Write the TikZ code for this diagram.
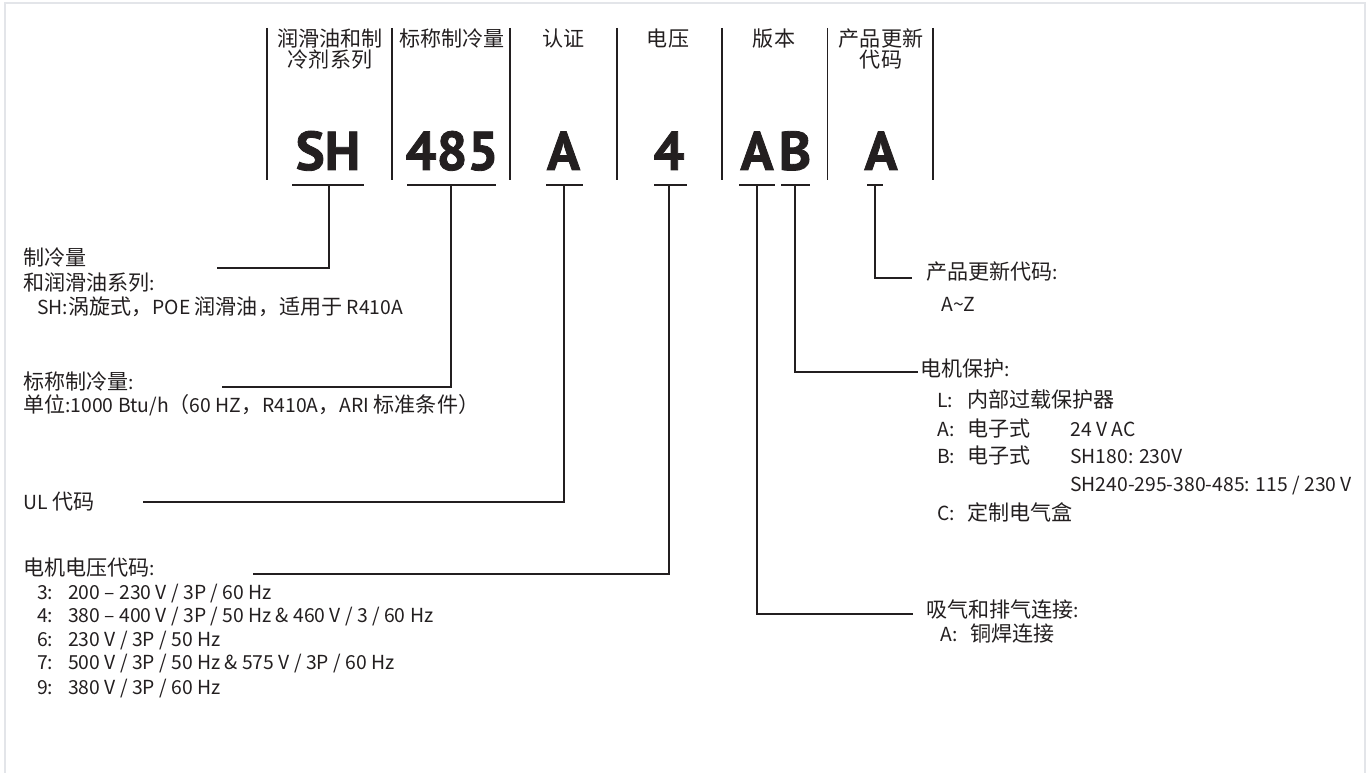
\documentclass[tikz,border=0pt]{standalone}
\usepackage{fontspec}
\setmainfont{Noto Sans CJK SC}
\newfontfamily\codefont{PT Sans}[FakeBold=1.5]
\definecolor{ink}{HTML}{231F20}
\definecolor{framegray}{HTML}{E3E5E9}
% CJK characters a little larger than Latin ones within body lines
\newcommand\cjksize{\fontsize{15.8}{17}\selectfont}
\newcommand\latsize{\fontsize{14.5}{17}\selectfont}
\newcommand\bodyfont{\latsize\XeTeXinterchartokenstate=1\relax}
\newXeTeXintercharclass\cjkcls
\newcount\cjkcnt
\cjkcnt="4E00
\loop \XeTeXcharclass\cjkcnt=\cjkcls \advance\cjkcnt by 1 \ifnum\cjkcnt<"A000 \repeat
\cjkcnt="3000
\loop \XeTeXcharclass\cjkcnt=\cjkcls \advance\cjkcnt by 1 \ifnum\cjkcnt<"3040 \repeat
\cjkcnt="FF00
\loop \XeTeXcharclass\cjkcnt=\cjkcls \advance\cjkcnt by 1 \ifnum\cjkcnt<"FF60 \repeat
\XeTeXinterchartoks 0 \cjkcls {\cjksize}
\XeTeXinterchartoks 4095 \cjkcls {\cjksize}
\XeTeXinterchartoks \cjkcls 0 {\latsize}
\XeTeXinterchartoks 4095 0 {\latsize}
\begin{document}
\begin{tikzpicture}[x=0.75pt,y=-0.75pt,
  ln/.style={inner sep=0pt, anchor=west, text height=12.8pt, text depth=1.7pt,
    font=\bodyfont, text=ink},
  hd/.style={inner sep=0pt, anchor=center, text height=13.9pt, text depth=1.9pt,
    font=\fontsize{15.8}{17}\selectfont, text=ink},
  codeletter/.style={inner sep=0pt, anchor=base, text=ink,
    font=\codefont\bfseries\fontsize{41}{44}\selectfont},
  divider/.style={draw=ink, line width=1.3pt},
  underl/.style={draw=ink, line width=2.2pt},
  conn/.style={draw=ink, line width=1.5pt}]
\useasboundingbox (0,0) rectangle (1370,773);
% frame
\draw[framegray, line width=1.5pt] (5,775) -- (5,3) -- (1365,3) -- (1365,775);

% header labels
\node[hd] (h1a) at (330,39) {润滑油和制};
\node[hd] (h1b) at (330,60) {冷剂系列};
\node[hd] (h2) at (452,39) {标称制冷量};
\node[hd] (h3) at (563.5,39) {认证};
\node[hd] (h4) at (668,39) {电压};
\node[hd] (h5) at (774,39) {版本};
\node[hd] (h6a) at (881,39) {产品更新};
\node[hd] (h6b) at (881,60) {代码};

% dividers
\foreach \x in {267,392,510,617,722,827.5,933}
  \draw[divider] (\x,28) -- (\x,180);

% code letters
\node[codeletter] (c1) at (328,170) {SH};
\node[codeletter] (c2) at (452,170) {485};
\node[codeletter] (c3) at (563.5,170) {A};
\node[codeletter] (c4) at (669,170) {4};
\node[codeletter] (c5) at (757,170) {A};
\node[codeletter] (c6) at (795,170) {B};
\node[codeletter] (c7) at (881,170) {A};

% underlines
\draw[underl] (292,185) -- (364,185);
\draw[underl] (407,185) -- (496,185);
\draw[underl] (546,185) -- (583,185);
\draw[underl] (654,185) -- (687,185);
\draw[underl] (739,185) -- (775,185);
\draw[underl] (781,185) -- (810,185);
\draw[underl] (867,185) -- (883,185);

% connector start/end points
\coordinate (u1) at (329,185);   \coordinate (e1) at (217,268);
\coordinate (u2) at (451,185);   \coordinate (e2) at (222,387);
\coordinate (u3) at (563.5,185); \coordinate (e3) at (143,502);
\coordinate (u4) at (669,185);   \coordinate (e4) at (253,574);
\coordinate (u5) at (757,185);   \coordinate (e5) at (913,614);
\coordinate (u6) at (795,185);   \coordinate (e6) at (918,372);
\coordinate (u7) at (875,185);   \coordinate (e7) at (912,278);
\foreach \i in {1,...,7} \draw[conn] (u\i) |- (e\i);

% left texts
\node[ln] (t1a) at (23,258) {制冷量};
\node[ln] (t1b) at (23,283) {和润滑油系列:};
\node[ln] (t1c) at (37,307) {SH:涡旋式，POE 润滑油，适用于 R410A};
\node[ln] (t2a) at (23,382) {标称制冷量:};
\node[ln] (t2b) at (23,405) {单位:1000 Btu/h（60 HZ，R410A，ARI 标准条件）};
\node[ln] (t3) at (23,502) {UL 代码};
\node[ln] (t4) at (23,568) {电机电压代码:};
\node[ln] (v3) at (37,592) {\makebox[23.25pt][l]{3:}200 – 230 V / 3P / 60 Hz};
\node[ln] (v4) at (37,615) {\makebox[23.25pt][l]{4:}380 – 400 V / 3P / 50 Hz \& 460 V / 3 / 60 Hz};
\node[ln] (v6) at (37,639) {\makebox[23.25pt][l]{6:}230 V / 3P / 50 Hz};
\node[ln] (v7) at (37,662) {\makebox[23.25pt][l]{7:}500 V / 3P / 50 Hz \& 575 V / 3P / 60 Hz};
\node[ln] (v9) at (37,687) {\makebox[23.25pt][l]{9:}380 V / 3P / 60 Hz};

% right texts
\node[ln] (r1a) at (926,272) {产品更新代码:};
\node[ln] (r1b) at (941,304) {A\textasciitilde Z};
\node[ln] (r2) at (920,369) {电机保护:};
\node[ln] (pL) at (937,400) {\makebox[22.5pt][l]{L:}内部过载保护器};
\node[ln] (pA) at (937,429) {\makebox[22.5pt][l]{A:}\makebox[77.25pt][l]{电子式}24 V AC};
\node[ln] (pB) at (937,456) {\makebox[22.5pt][l]{B:}\makebox[77.25pt][l]{电子式}SH180: 230V};
\node[ln] (pB2) at (1070,484) {SH240-295-380-485: 115 / 230 V};
\node[ln] (pC) at (937,513) {\makebox[22.5pt][l]{C:}定制电气盒};
\node[ln] (r3a) at (926,610) {吸气和排气连接:};
\node[ln] (r3b) at (940,634) {\makebox[22.5pt][l]{A:}铜焊连接};
\end{tikzpicture}
\end{document}
